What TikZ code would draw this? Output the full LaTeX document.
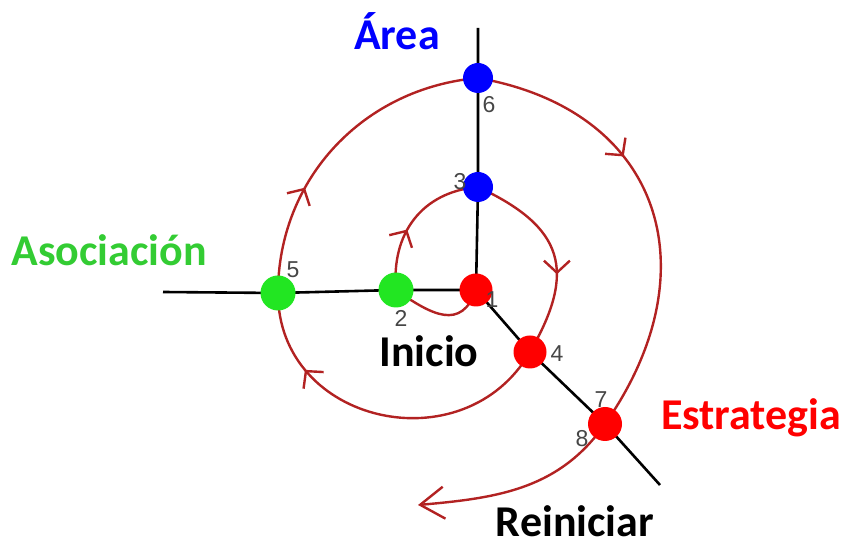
\documentclass[tikz,border=0pt]{standalone}
\usepackage{fontspec}
\setmainfont{Carlito}
\newfontfamily\numfont{Liberation Sans}
\usetikzlibrary{arrows.meta,decorations.markings,backgrounds}
\definecolor{curva}{RGB}{178,34,34}
\definecolor{verdeP}{RGB}{34,230,34}
\definecolor{verdeT}{RGB}{51,204,51}
\definecolor{gris}{RGB}{70,70,70}

\begin{document}
\begin{tikzpicture}[x=0.5pt,y=0.5pt,>=Latex,
  punto/.style={circle,inner sep=0pt,minimum size=16.5pt},
  eje/.style={line width=1.3pt,black},
  espiral/.style={line width=1.2pt,curva},
  flecha/.style={postaction={decorate},decoration={markings,
    mark=at position #1 with {\arrow{Straight Barb[length=6pt,width=13pt]}}}},
  num/.style={font=\numfont\fontsize{11.5}{12}\selectfont,text=gris,inner sep=0pt,anchor=base},
  titulo/.style={font=\bfseries\fontsize{22}{24}\selectfont,inner sep=0pt,anchor=base}]
\useasboundingbox (0,0) rectangle (844,545);
% puntos de la espiral
\node[punto,fill=red] (p1) at (476,255) {};
\node[punto,fill=verdeP,minimum size=17.5pt] (p2) at (396,255) {};
\node[punto,fill=blue,minimum size=15pt] (p3) at (478,358) {};
\node[punto,fill=red] (p4) at (530,193) {};
\node[punto,fill=verdeP,minimum size=17.5pt] (p5) at (278,252) {};
\node[punto,fill=blue,minimum size=15pt] (p6) at (478,467) {};
\node[punto,fill=red,minimum size=17pt] (p7) at (605,121) {};
\coordinate (ejeN) at (478,517);
\coordinate (ejeO) at (163,253);
\coordinate (ejeSE) at (660,60);
\coordinate (fin) at (418,40);
% ejes y espiral
\begin{pgfonlayer}{background}
\draw[eje] (ejeN) -- (p6.center) -- (p3.center) -- (p1.center);
\draw[eje] (ejeO) -- (p5.center) -- (p2.center) -- (p1.center);
\draw[eje] (p1.center) -- (p4.center) -- (p7.center) -- (ejeSE);
\draw[espiral] (p1.center) to[out=-110,in=-35,looseness=1.4] (p2.center);
\draw[espiral,flecha=0.42] (p2.center) to[out=95,in=185,looseness=1.1] (p3.center);
\draw[espiral,flecha=0.6] (p3.center) to[out=-25,in=60,looseness=1.4] (p4.center);
\draw[espiral,flecha=0.76] (p4.center) to[out=-120,in=-90,looseness=1.3] (p5.center);
\draw[espiral,flecha=0.34] (p5.center) to[out=90,in=185] (p6.center);
\draw[espiral,flecha=0.37] (p6.center) to[out=-10,in=55,looseness=1.3] (p7.center);
\draw[espiral,-{Straight Barb[length=12pt,width=16pt]}] (p7.center) to[out=-125,in=5] (fin);
\end{pgfonlayer}
% etiquetas
\node[titulo,text=blue] (tArea) at (397,495) {Área};
\node[titulo,text=verdeT] (tAsoc) at (109,279) {Asociación};
\node[titulo] (tInicio) at (429,178) {Inicio};
\node[titulo,text=red] (tEstr) at (751,115) {Estrategia};
\node[titulo] (tReini) at (575,9) {Reiniciar};
% numeros
\node[num] (n1) at (492,237) {1};
\node[num] (n2) at (401,218) {2};
\node[num] (n3) at (460,355) {3};
\node[num] (n4) at (557,183) {4};
\node[num] (n5) at (293,267) {5};
\node[num] (n6) at (489,432) {6};
\node[num] (n7) at (601,137) {7};
\node[num] (n8) at (582,98) {8};
\end{tikzpicture}
\end{document}
